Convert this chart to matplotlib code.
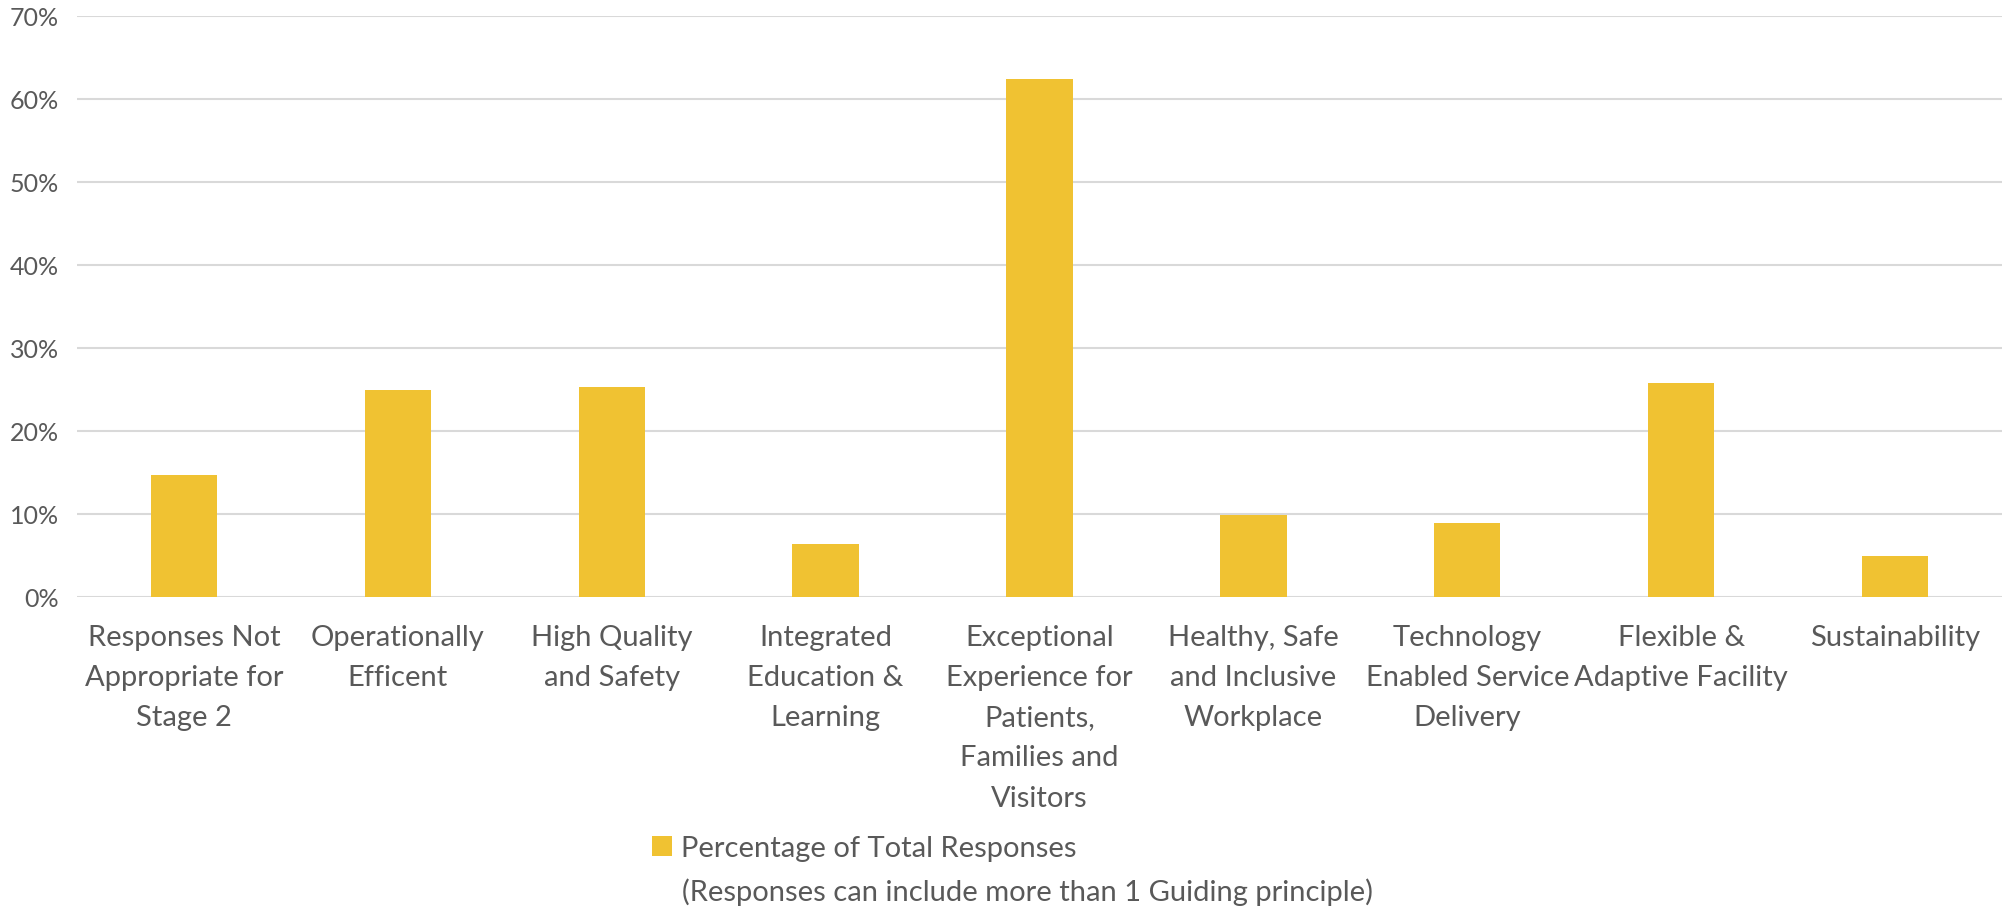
import numpy as np
import matplotlib.pyplot as plt
from matplotlib.ticker import PercentFormatter
from matplotlib.patches import Patch

# data
categories = ["Responses Not\nAppropriate for\nStage 2",
              "Operationally\nEfficent",
              "High Quality\nand Safety",
              "Integrated\nEducation &\nLearning",
              "Exceptional\nExperience for\nPatients,\nFamilies and\nVisitors",
              "Healthy, Safe\nand Inclusive\nWorkplace",
              "Technology\nEnabled Service\nDelivery",
              "Flexible &\nAdaptive Facility",
              "Sustainability"]
values = [14.7, 24.9, 25.3, 6.3, 62.3, 9.8, 8.8, 25.7, 4.9]
yticks = [0, 10, 20, 30, 40, 50, 60, 70]
legend_line1 = "Percentage of Total Responses"
legend_line2 = "(Responses can include more than 1 Guiding principle)"

bar_color = "#F0C232"
text_color = "#595959"
grid_color = "#D9D9D9"

plt.rcParams['font.family'] = ['Lato', 'DejaVu Sans']

fig = plt.figure(figsize=(20.02, 9.12), dpi=100)
ax = fig.add_axes([77/2002, 1 - 597.5/912, (2002-77)/2002, (597.5-16.6)/912])

x = np.arange(len(categories))
ax.bar(x, values, width=0.31, color=bar_color, zorder=3)

ax.set_xlim(-0.5, len(categories) - 0.5)
ax.set_ylim(0, 70)
ax.set_yticks(yticks)
ax.yaxis.set_major_formatter(PercentFormatter(decimals=0))
ax.set_xticks(x)
ax.set_xticklabels(categories, fontsize=21, color=text_color, linespacing=1.67, va='top')
ax.tick_params(axis='y', labelsize=18, colors=text_color, length=0, pad=13)
ax.tick_params(axis='x', length=0, pad=20)
ax.grid(axis='y', color=grid_color, linewidth=1.5, zorder=0)
for s in ax.spines.values():
    s.set_visible(False)

# legend: square handle next to first line, second line as plain text below
handle = Patch(facecolor=bar_color)
fig.legend([handle], [legend_line1],
           loc='center left', bbox_to_anchor=(652/2002, 1 - 849/912), frameon=False,
           fontsize=21, labelcolor=text_color, handlelength=0.7, handleheight=0.7,
           handletextpad=0.3, borderpad=0, borderaxespad=0)
fig.text(682/2002, 1 - 892/912, legend_line2, fontsize=21, color=text_color,
         ha='left', va='center')

fig.savefig("out.png", dpi=100)
